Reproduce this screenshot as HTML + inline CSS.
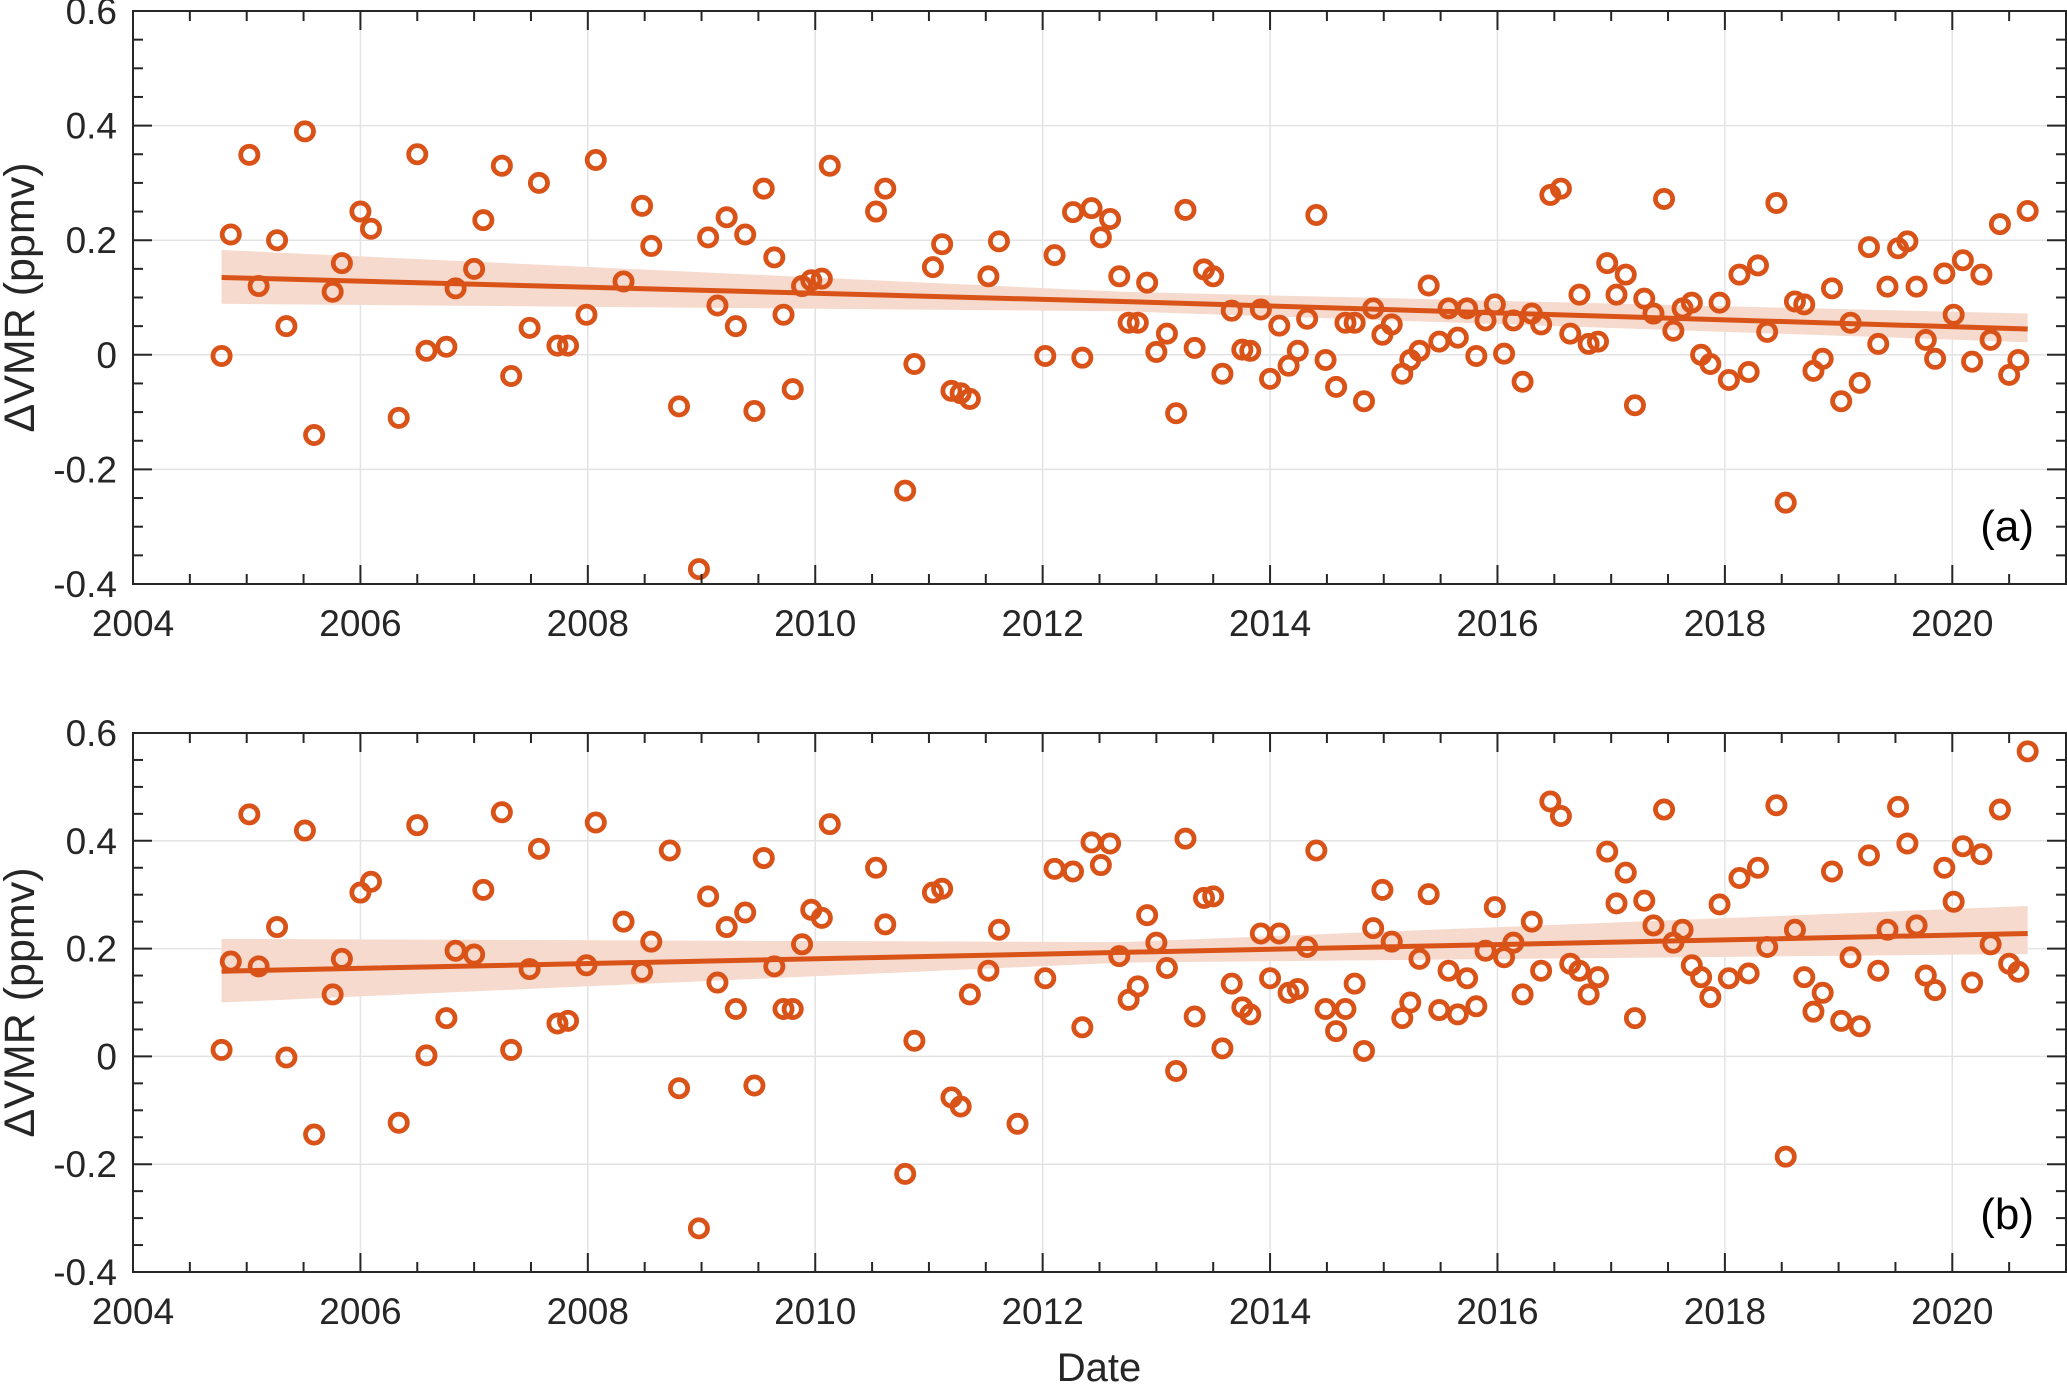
<!DOCTYPE html>
<html><head><meta charset="utf-8"><style>
html,body{margin:0;padding:0;background:#fff;}
svg{display:block;font-family:"Liberation Sans",Arial,sans-serif;}
</style></head><body>
<svg id="chart" width="2067" height="1384" viewBox="0 0 2067 1384" xmlns="http://www.w3.org/2000/svg"></svg>
<script>
// ---- data ----
const datesA = [2004.779,2004.860,2005.023,2005.105,2005.267,2005.349,2005.512,2005.593,2005.756,2005.837,2006.0,2006.093,2006.337,2006.5,2006.581,2006.756,2006.837,2007.0,2007.081,2007.244,2007.326,2007.488,2007.570,2007.733,2007.826,2007.988,2008.070,2008.314,2008.477,2008.558,2008.802,2008.977,2009.058,2009.140,2009.221,2009.302,2009.384,2009.465,2009.547,2009.640,2009.721,2009.802,2009.884,2009.965,2010.058,2010.128,2010.535,2010.616,2010.791,2010.872,2011.035,2011.116,2011.198,2011.279,2011.360,2011.523,2011.616,2012.023,2012.105,2012.267,2012.349,2012.430,2012.512,2012.593,2012.674,2012.756,2012.837,2012.919,2013.0,2013.093,2013.174,2013.256,2013.337,2013.419,2013.5,2013.581,2013.663,2013.756,2013.826,2013.919,2014.0,2014.081,2014.163,2014.244,2014.326,2014.407,2014.488,2014.581,2014.663,2014.744,2014.826,2014.907,2014.988,2015.070,2015.163,2015.233,2015.314,2015.395,2015.488,2015.570,2015.651,2015.733,2015.814,2015.895,2015.977,2016.058,2016.140,2016.221,2016.302,2016.384,2016.465,2016.558,2016.640,2016.721,2016.802,2016.884,2016.965,2017.047,2017.128,2017.209,2017.291,2017.372,2017.465,2017.547,2017.628,2017.709,2017.791,2017.872,2017.953,2018.035,2018.128,2018.209,2018.291,2018.372,2018.453,2018.535,2018.616,2018.698,2018.779,2018.860,2018.942,2019.023,2019.105,2019.186,2019.267,2019.349,2019.430,2019.523,2019.605,2019.686,2019.767,2019.849,2019.930,2020.012,2020.093,2020.174,2020.256,2020.337,2020.419,2020.5,2020.581,2020.663];
const valuesA = [-0.002,0.21,0.349,0.12,0.2,0.05,0.39,-0.14,0.11,0.16,0.25,0.22,-0.11,0.35,0.007,0.014,0.116,0.15,0.235,0.33,-0.037,0.047,0.30,0.016,0.016,0.07,0.34,0.128,0.26,0.19,-0.09,-0.374,0.205,0.086,0.24,0.05,0.21,-0.098,0.29,0.17,0.07,-0.06,0.12,0.13,0.133,0.33,0.25,0.29,-0.237,-0.016,0.153,0.193,-0.063,-0.067,-0.077,0.137,0.198,-0.002,0.174,0.249,-0.005,0.256,0.205,0.237,0.137,0.056,0.056,0.126,0.005,0.037,-0.102,0.253,0.012,0.149,0.137,-0.033,0.077,0.009,0.007,0.079,-0.042,0.051,-0.019,0.007,0.063,0.244,-0.009,-0.056,0.056,0.056,-0.081,0.081,0.035,0.053,-0.033,-0.009,0.007,0.121,0.023,0.081,0.03,0.081,-0.002,0.06,0.088,0.002,0.06,-0.047,0.072,0.053,0.279,0.29,0.037,0.105,0.019,0.023,0.16,0.105,0.14,-0.088,0.098,0.072,0.272,0.042,0.081,0.091,0,-0.016,0.091,-0.044,0.14,-0.03,0.156,0.04,0.265,-0.258,0.093,0.088,-0.028,-0.007,0.116,-0.081,0.056,-0.049,0.188,0.019,0.119,0.186,0.198,0.119,0.026,-0.007,0.142,0.07,0.165,-0.012,0.14,0.026,0.228,-0.035,-0.009,0.251];
const datesB = [2004.779,2004.860,2005.023,2005.105,2005.267,2005.349,2005.512,2005.593,2005.756,2005.837,2006.0,2006.093,2006.337,2006.5,2006.581,2006.756,2006.837,2007.0,2007.081,2007.244,2007.326,2007.488,2007.570,2007.733,2007.826,2007.988,2008.070,2008.314,2008.477,2008.558,2008.721,2008.802,2008.977,2009.058,2009.140,2009.221,2009.302,2009.384,2009.465,2009.547,2009.640,2009.721,2009.802,2009.884,2009.965,2010.058,2010.128,2010.535,2010.616,2010.791,2010.872,2011.035,2011.116,2011.198,2011.279,2011.360,2011.523,2011.616,2011.779,2012.023,2012.105,2012.267,2012.349,2012.430,2012.512,2012.593,2012.674,2012.756,2012.837,2012.919,2013.0,2013.093,2013.174,2013.256,2013.337,2013.419,2013.5,2013.581,2013.663,2013.756,2013.826,2013.919,2014.0,2014.081,2014.163,2014.244,2014.326,2014.407,2014.488,2014.581,2014.663,2014.744,2014.826,2014.907,2014.988,2015.070,2015.163,2015.233,2015.314,2015.395,2015.488,2015.570,2015.651,2015.733,2015.814,2015.895,2015.977,2016.058,2016.140,2016.221,2016.302,2016.384,2016.465,2016.558,2016.640,2016.721,2016.802,2016.884,2016.965,2017.047,2017.128,2017.209,2017.291,2017.372,2017.465,2017.547,2017.628,2017.709,2017.791,2017.872,2017.953,2018.035,2018.128,2018.209,2018.291,2018.372,2018.453,2018.535,2018.616,2018.698,2018.779,2018.860,2018.942,2019.023,2019.105,2019.186,2019.267,2019.349,2019.430,2019.523,2019.605,2019.686,2019.767,2019.849,2019.930,2020.012,2020.093,2020.174,2020.256,2020.337,2020.419,2020.5,2020.581,2020.663];
const valuesB = [0.012,0.176,0.449,0.167,0.24,-0.002,0.419,-0.145,0.115,0.181,0.304,0.324,-0.123,0.429,0.002,0.071,0.196,0.189,0.309,0.453,0.012,0.162,0.385,0.061,0.066,0.169,0.434,0.25,0.157,0.213,0.382,-0.059,-0.319,0.297,0.137,0.24,0.088,0.267,-0.054,0.368,0.167,0.088,0.088,0.208,0.272,0.257,0.431,0.35,0.245,-0.218,0.029,0.304,0.311,-0.076,-0.093,0.115,0.159,0.235,-0.125,0.145,0.348,0.343,0.054,0.397,0.355,0.395,0.186,0.105,0.13,0.262,0.211,0.164,-0.027,0.404,0.074,0.294,0.297,0.015,0.135,0.091,0.078,0.228,0.145,0.228,0.118,0.125,0.203,0.382,0.088,0.047,0.088,0.135,0.01,0.238,0.309,0.213,0.071,0.1,0.181,0.301,0.086,0.159,0.078,0.145,0.093,0.196,0.277,0.184,0.211,0.115,0.25,0.159,0.473,0.446,0.172,0.159,0.115,0.147,0.38,0.284,0.341,0.071,0.289,0.243,0.458,0.211,0.235,0.169,0.147,0.11,0.282,0.145,0.331,0.154,0.35,0.203,0.466,-0.186,0.235,0.147,0.083,0.118,0.343,0.066,0.184,0.056,0.373,0.159,0.235,0.463,0.395,0.243,0.15,0.123,0.35,0.287,0.39,0.137,0.375,0.208,0.458,0.172,0.157,0.566];
const trendDates = [2004.779, 2012.7, 2020.663];
const trendA = [0.135, 0.093, 0.045];
const bandLowA = [0.089, 0.076, 0.022];
const bandHighA = [0.183, 0.110, 0.072];
const trendB = [0.158, 0.193, 0.228];
const bandLowB = [0.100, 0.174, 0.190];
const bandHighB = [0.218, 0.212, 0.279];
const xTicks = [2004,2006,2008,2010,2012,2014,2016,2018,2020];
const yTicks = [-0.4,-0.2,0,0.2,0.4,0.6];
const yTickLabels = ["-0.4","-0.2","0","0.2","0.4","0.6"];

const NS="http://www.w3.org/2000/svg";
const svg=document.getElementById('chart');
const COL="#D95319";
function mk(tag,attrs,parent){const e=document.createElementNS(NS,tag);for(const k in attrs)e.setAttribute(k,attrs[k]);(parent||svg).appendChild(e);return e;}

const X0=133,X1=2066,XMIN=2004,XMAX=2021;
function xs(d){return X0+(d-XMIN)/(XMAX-XMIN)*(X1-X0);}

function panel(name,top,bottom,dates,vals,trend,lo,hi,label){
  const g=mk('g',{});
  
  
  const ys=v=>bottom-(v-(-0.4))/1.0*(bottom-top);
  xTicks.forEach(t=>{const l=mk('line',{x1:xs(t),x2:xs(t),y1:top,y2:bottom,stroke:'#e3e3e3','stroke-width':1.5},g);
    });
  yTicks.forEach(t=>{const l=mk('line',{x1:X0,x2:X1,y1:ys(t),y2:ys(t),stroke:'#e3e3e3','stroke-width':1.5},g);
    });
  let pts=[];
  for(let i=0;i<trendDates.length;i++)pts.push(xs(trendDates[i])+','+ys(hi[i]));
  for(let i=trendDates.length-1;i>=0;i--)pts.push(xs(trendDates[i])+','+ys(lo[i]));
  const band=mk('polygon',{points:pts.join(' '),fill:'#F6DACE'},g);
  
  
  const tl=mk('polyline',{points:trendDates.map((d,i)=>xs(d)+','+ys(trend[i])).join(' '),fill:'none',stroke:COL,'stroke-width':5},g);
  
  
  dates.forEach((d,i)=>{const c=mk('circle',{cx:xs(d),cy:ys(vals[i]),r:8.6,fill:'none',stroke:COL,'stroke-width':4.8},g);
    
    });
  const box=mk('rect',{x:X0,y:top,width:X1-X0,height:bottom-top,fill:'none',stroke:'#262626','stroke-width':2},g);
  
  
  for(let t=2004;t<=2021.001;t+=0.5){const major=Math.abs(t-Math.round(t/2)*2)<1e-6;const L=major?19:10;
    mk('line',{x1:xs(t),x2:xs(t),y1:bottom,y2:bottom-L,stroke:'#262626','stroke-width':2},g);
    mk('line',{x1:xs(t),x2:xs(t),y1:top,y2:top+L,stroke:'#262626','stroke-width':2},g);}
  for(let k=0;k<=20;k++){const v=-0.4+k*0.05;const major=k%4===0;const L=major?19:10;
    mk('line',{x1:X0,x2:X0+L,y1:ys(v),y2:ys(v),stroke:'#262626','stroke-width':2},g);
    mk('line',{x1:X1,x2:X1-L,y1:ys(v),y2:ys(v),stroke:'#262626','stroke-width':2},g);}
  xTicks.forEach(t=>{const tx=mk('text',{x:xs(t),y:bottom+52,'text-anchor':'middle','font-size':37,fill:'#262626'},g);tx.textContent=t;
    });
  yTicks.forEach((t,i)=>{const tx=mk('text',{x:117,y:ys(t)+13,'text-anchor':'end','font-size':37,fill:'#262626'},g);tx.textContent=yTickLabels[i];
    });
  const yl=mk('text',{x:0,y:0,transform:`translate(34,${(top+bottom)/2}) rotate(-90)`,'text-anchor':'middle','font-size':43,fill:'#262626'},g);
  yl.textContent='\u0394VMR (ppmv)';
  
  
  const pl=mk('text',{x:2034,y:bottom-43,'text-anchor':'end','font-size':44,fill:'#000'},g);
  pl.textContent=label;
  
  
}
panel('panel-a',11,584,datesA,valuesA,trendA,bandLowA,bandHighA,'(a)');
panel('panel-b',733,1272,datesB,valuesB,trendB,bandLowB,bandHighB,'(b)');
const xt=mk('text',{x:1099,y:1381,'text-anchor':'middle','font-size':40,fill:'#262626'});
xt.textContent='Date';


</script>
</body></html>
